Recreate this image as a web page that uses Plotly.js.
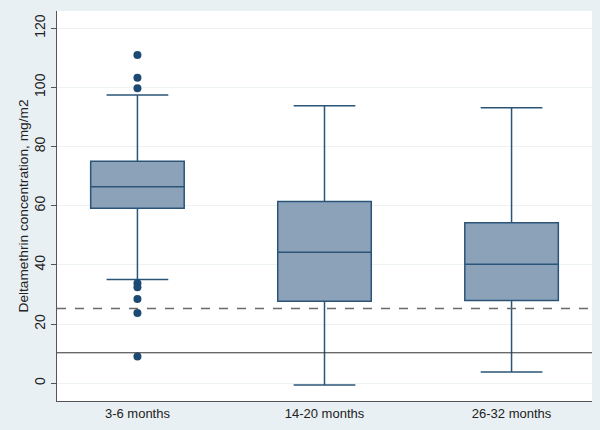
<!DOCTYPE html>
<html>
<head>
<meta charset="utf-8">
<script src="https://cdn.plot.ly/plotly-3.0.1.min.js"></script>
<style>html,body{margin:0;padding:0;background:#e9f0f3;}</style>
</head>
<body>
<div id="chart" style="width:600px;height:430px;"></div>
<script>
const categories = ["3-6 months", "14-20 months", "26-32 months"];
const lowerWhisker = [35.1, -0.6, 3.8];
const q1 = [59.1, 27.7, 28.0];
const median = [66.4, 44.3, 40.2];
const q3 = [75.0, 61.4, 54.2];
const upperWhisker = [97.4, 93.8, 93.1];
const outlierGroup = ["3-6 months", "3-6 months", "3-6 months", "3-6 months", "3-6 months", "3-6 months", "3-6 months", "3-6 months"];
const outlierValues = [110.9, 103.2, 99.7, 33.8, 32.4, 28.5, 23.7, 9.0];
const refDashed = 25.3;
const refSolid = 10.3;
const yTicks = [0, 20, 40, 60, 80, 100, 120];

const navy = "#2a5478";
const traces = [
  {
    type: "box",
    x: categories,
    q1: q1,
    median: median,
    q3: q3,
    lowerfence: lowerWhisker,
    upperfence: upperWhisker,
    boxpoints: false,
    width: 0.5,
    whiskerwidth: 0.66,
    fillcolor: "rgb(140,162,184)",
    line: {color: navy, width: 1.5},
    hoverinfo: "skip",
    showlegend: false
  },
  {
    type: "scatter",
    mode: "markers",
    x: outlierGroup,
    y: outlierValues,
    marker: {color: "#1c4a73", size: 8},
    hoverinfo: "skip",
    showlegend: false
  }
];

const layout = {
  width: 600,
  height: 430,
  paper_bgcolor: "#e9f0f3",
  plot_bgcolor: "#ffffff",
  margin: {l: 57, r: 8, t: 11, b: 29},
  font: {family: "Liberation Sans, Arial, sans-serif", color: "#222"},
  xaxis: {
    type: "category",
    range: [-0.43, 2.43],
    showgrid: false,
    zeroline: false,
    showline: true,
    linecolor: "#555",
    linewidth: 1.2,
    ticks: "",
    tickfont: {size: 13, color: "#222"},
    fixedrange: true
  },
  yaxis: {
    range: [-6, 125.8],
    tickvals: yTicks,
    ticktext: yTicks.map(String),
    tickangle: -90,
    ticks: "outside",
    ticklen: 5,
    tickcolor: "#555",
    showline: true,
    linecolor: "#555",
    linewidth: 1.2,
    showgrid: true,
    gridcolor: "#edf2f4",
    gridwidth: 1,
    zeroline: false,
    tickfont: {size: 14, color: "#222"},
    title: {text: "Deltamethrin concentration, mg/m2", font: {size: 13.7, color: "#222"}, standoff: 0},
    fixedrange: true
  },
  shapes: [
    {type: "line", xref: "paper", x0: 0, x1: 1, yref: "y", y0: refDashed, y1: refDashed,
     line: {color: "#6a6a6a", width: 1.5, dash: "dash"}},
    {type: "line", xref: "paper", x0: 0, x1: 1, yref: "y", y0: refSolid, y1: refSolid,
     line: {color: "#333", width: 1}}
  ]
};

Plotly.newPlot("chart", traces, layout, {displayModeBar: false, staticPlot: true});
</script>
</body>
</html>
